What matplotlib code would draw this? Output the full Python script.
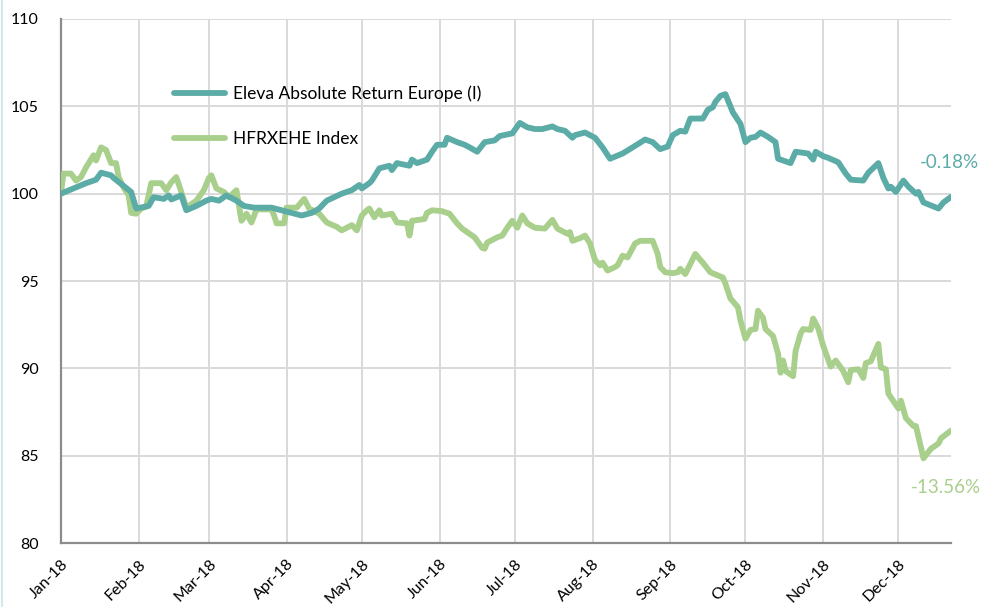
import pandas as pd
import matplotlib
matplotlib.use('Agg')
import matplotlib.pyplot as plt
import matplotlib.dates as mdates
from matplotlib.lines import Line2D

# Eleva Absolute Return Europe (I), rebased to 100
eleva_dates = ['2018-01-01', '2018-01-06', '2018-01-11', '2018-01-15', '2018-01-17', '2018-01-21',
               '2018-01-22', '2018-01-29', '2018-01-31', '2018-02-05', '2018-02-07', '2018-02-11',
               '2018-02-13', '2018-02-14', '2018-02-18', '2018-02-20', '2018-02-24', '2018-02-28',
               '2018-03-02', '2018-03-05', '2018-03-08', '2018-03-12', '2018-03-15', '2018-03-19',
               '2018-03-26', '2018-03-30', '2018-04-03', '2018-04-07', '2018-04-11', '2018-04-14',
               '2018-04-17', '2018-04-23', '2018-04-27', '2018-04-30', '2018-05-01', '2018-05-04',
               '2018-05-05', '2018-05-08', '2018-05-12', '2018-05-13', '2018-05-15', '2018-05-20',
               '2018-05-21', '2018-05-23', '2018-05-27', '2018-05-29', '2018-05-31', '2018-06-03',
               '2018-06-04', '2018-06-08', '2018-06-11', '2018-06-13', '2018-06-16', '2018-06-19',
               '2018-06-23', '2018-06-25', '2018-06-30', '2018-07-03', '2018-07-06', '2018-07-09',
               '2018-07-12', '2018-07-16', '2018-07-18', '2018-07-21', '2018-07-24', '2018-07-25',
               '2018-07-29', '2018-08-02', '2018-08-05', '2018-08-08', '2018-08-13', '2018-08-17',
               '2018-08-22', '2018-08-25', '2018-08-28', '2018-08-31', '2018-09-02', '2018-09-05',
               '2018-09-07', '2018-09-09', '2018-09-14', '2018-09-16', '2018-09-18', '2018-09-19',
               '2018-09-21', '2018-09-23', '2018-09-24', '2018-09-26', '2018-09-29', '2018-10-01',
               '2018-10-03', '2018-10-05', '2018-10-07', '2018-10-10', '2018-10-13', '2018-10-14',
               '2018-10-16', '2018-10-19', '2018-10-21', '2018-10-26', '2018-10-28', '2018-10-29',
               '2018-11-01', '2018-11-03', '2018-11-07', '2018-11-10', '2018-11-12', '2018-11-17',
               '2018-11-19', '2018-11-23', '2018-11-25', '2018-11-27', '2018-11-28', '2018-11-30',
               '2018-12-03', '2018-12-05', '2018-12-08', '2018-12-09', '2018-12-11', '2018-12-17',
               '2018-12-19', '2018-12-22']
eleva_values = [100.0, 100.3, 100.6, 100.8, 101.2, 101.05,
                100.9, 100.1, 99.15, 99.3, 99.8, 99.7,
                99.9, 99.67, 99.9, 99.05, 99.3, 99.6,
                99.7, 99.6, 99.9, 99.6, 99.3, 99.2,
                99.2, 99.05, 98.9, 98.75, 98.9, 99.15,
                99.6, 100.0, 100.2, 100.5, 100.3, 100.6,
                100.75, 101.45, 101.6, 101.35, 101.75, 101.6,
                101.95, 101.75, 101.95, 102.4, 102.8, 102.8,
                103.2, 102.95, 102.8, 102.65, 102.4, 102.95,
                103.05, 103.3, 103.45, 104.05, 103.8, 103.7,
                103.7, 103.85, 103.7, 103.6, 103.2, 103.35,
                103.5, 103.2, 102.65, 102.0, 102.3, 102.65,
                103.1, 102.95, 102.55, 102.7, 103.35, 103.6,
                103.55, 104.3, 104.3, 104.8, 104.95, 105.25,
                105.6, 105.7, 105.35, 104.65, 104.0, 102.95,
                103.2, 103.25, 103.5, 103.25, 102.95, 102.0,
                101.9, 101.75, 102.4, 102.3, 101.95, 102.4,
                102.15, 102.05, 101.8, 101.15, 100.8, 100.75,
                101.2, 101.75, 100.9, 100.3, 100.4, 100.1,
                100.75, 100.4, 100.0, 100.1, 99.5, 99.15,
                99.5, 99.82]

# HFRXEHE Index, rebased to 100
hfrx_dates = ['2018-01-01', '2018-01-02', '2018-01-05', '2018-01-07', '2018-01-09', '2018-01-11',
              '2018-01-14', '2018-01-15', '2018-01-17', '2018-01-19', '2018-01-21', '2018-01-23',
              '2018-01-24', '2018-01-26', '2018-01-28', '2018-01-29', '2018-01-31', '2018-02-02',
              '2018-02-04', '2018-02-06', '2018-02-10', '2018-02-12', '2018-02-14', '2018-02-16',
              '2018-02-18', '2018-02-20', '2018-02-24', '2018-02-27', '2018-03-01', '2018-03-02',
              '2018-03-04', '2018-03-07', '2018-03-09', '2018-03-12', '2018-03-14', '2018-03-16',
              '2018-03-18', '2018-03-20', '2018-03-26', '2018-03-27', '2018-03-28', '2018-03-31',
              '2018-04-01', '2018-04-05', '2018-04-08', '2018-04-10', '2018-04-14', '2018-04-17',
              '2018-04-21', '2018-04-23', '2018-04-25', '2018-04-27', '2018-04-29', '2018-05-01',
              '2018-05-03', '2018-05-04', '2018-05-06', '2018-05-08', '2018-05-09', '2018-05-13',
              '2018-05-15', '2018-05-19', '2018-05-20', '2018-05-21', '2018-05-26', '2018-05-27',
              '2018-05-29', '2018-06-02', '2018-06-05', '2018-06-08', '2018-06-10', '2018-06-12',
              '2018-06-15', '2018-06-18', '2018-06-19', '2018-06-20', '2018-06-24', '2018-06-26',
              '2018-06-28', '2018-06-30', '2018-07-02', '2018-07-04', '2018-07-06', '2018-07-09',
              '2018-07-13', '2018-07-16', '2018-07-18', '2018-07-22', '2018-07-23', '2018-07-24',
              '2018-07-27', '2018-07-29', '2018-07-31', '2018-08-02', '2018-08-04', '2018-08-05',
              '2018-08-07', '2018-08-10', '2018-08-11', '2018-08-13', '2018-08-15', '2018-08-18',
              '2018-08-20', '2018-08-25', '2018-08-27', '2018-08-28', '2018-08-30', '2018-09-02',
              '2018-09-04', '2018-09-05', '2018-09-07', '2018-09-11', '2018-09-14', '2018-09-17',
              '2018-09-22', '2018-09-23', '2018-09-25', '2018-09-28', '2018-09-29', '2018-10-01',
              '2018-10-03', '2018-10-05', '2018-10-06', '2018-10-08', '2018-10-09', '2018-10-12',
              '2018-10-14', '2018-10-15', '2018-10-16', '2018-10-17', '2018-10-20', '2018-10-21',
              '2018-10-23', '2018-10-24', '2018-10-27', '2018-10-28', '2018-10-30', '2018-11-01',
              '2018-11-04', '2018-11-06', '2018-11-09', '2018-11-11', '2018-11-12', '2018-11-15',
              '2018-11-17', '2018-11-18', '2018-11-20', '2018-11-23', '2018-11-24', '2018-11-26',
              '2018-11-27', '2018-12-01', '2018-12-02', '2018-12-04', '2018-12-07', '2018-12-08',
              '2018-12-11', '2018-12-14', '2018-12-17', '2018-12-18', '2018-12-22']
hfrx_values = [100.0, 101.15, 101.15, 100.75, 100.95, 101.5,
               102.2, 101.9, 102.65, 102.5, 101.75, 101.75,
               100.95, 100.35, 99.9, 98.9, 98.85, 99.15,
               99.25, 100.6, 100.6, 100.2, 100.65, 100.95,
               100.1, 99.2, 99.6, 100.2, 100.9, 101.05,
               100.3, 100.1, 99.8, 100.2, 98.45, 98.85,
               98.35, 99.1, 99.1, 98.75, 98.3, 98.3,
               99.2, 99.2, 99.7, 99.15, 98.85, 98.35,
               98.1, 97.9, 98.05, 98.2, 97.9, 98.75,
               99.05, 99.15, 98.65, 99.05, 98.75, 98.85,
               98.35, 98.3, 97.6, 98.45, 98.55, 98.9,
               99.05, 99.0, 98.85, 98.3, 98.0, 97.8,
               97.5, 96.9, 96.85, 97.2, 97.5, 97.6,
               98.05, 98.45, 98.05, 98.75, 98.3, 98.05,
               98.0, 98.5, 98.0, 97.7, 97.8, 97.3,
               97.45, 97.6, 97.15, 96.2, 95.9, 96.05,
               95.6, 95.8, 95.9, 96.45, 96.35, 97.15,
               97.3, 97.3, 96.55, 95.8, 95.5, 95.45,
               95.5, 95.7, 95.4, 96.55, 96.05, 95.5,
               95.2, 94.85, 94.0, 93.5, 92.75, 91.7,
               92.2, 92.25, 93.3, 92.9, 92.25, 91.85,
               90.85, 89.75, 90.45, 89.85, 89.55, 91.0,
               92.0, 92.25, 92.2, 92.85, 92.3, 91.3,
               90.1, 90.45, 89.85, 89.2, 89.9, 89.95,
               89.45, 90.3, 90.4, 91.4, 90.05, 89.95,
               88.55, 87.7, 88.15, 87.15, 86.7, 86.7,
               84.85, 85.4, 85.7, 86.0, 86.44]

eleva_label = 'Eleva Absolute Return Europe (I)'
hfrx_label = 'HFRXEHE Index'
eleva_perf = '-0.18%'
hfrx_perf = '-13.56%'

teal = '#5BABA7'
green = '#A9CF8C'

plt.rcParams['font.family'] = ['Lato', 'DejaVu Sans']

fig = plt.figure(figsize=(9.83, 6.07), dpi=100)
ax = fig.add_axes([0.062, 0.1054, 0.9055, 0.8633])

ax.plot(pd.to_datetime(eleva_dates), eleva_values, color=teal, lw=4.2,
        solid_joinstyle='round', solid_capstyle='round', label=eleva_label, zorder=3)
ax.plot(pd.to_datetime(hfrx_dates), hfrx_values, color=green, lw=4.2,
        solid_joinstyle='round', solid_capstyle='round', label=hfrx_label, zorder=2)

ax.set_ylim(80, 110)
ax.set_yticks(range(80, 111, 5))
ax.set_xlim(pd.Timestamp('2018-01-01'), pd.Timestamp('2018-12-22'))
ax.xaxis.set_major_locator(mdates.MonthLocator())
ax.xaxis.set_major_formatter(mdates.DateFormatter('%b-%y'))

ax.grid(True, color='#D9D9D9', lw=1.4)
ax.set_axisbelow(True)
for s in ['top', 'right']:
    ax.spines[s].set_visible(False)
for s in ['left', 'bottom']:
    ax.spines[s].set_color('#8C8C8C')
    ax.spines[s].set_linewidth(1.6)
    ax.spines[s].set_zorder(1)

ax.tick_params(axis='both', length=0, labelsize=11.5, colors='black')
ax.tick_params(axis='y', pad=16)
ax.tick_params(axis='x', pad=10)
for lbl in ax.get_xticklabels():
    lbl.set_rotation(45)
    lbl.set_rotation_mode('anchor')
    lbl.set_ha('right')
    lbl.set_va('top')

ax.legend(loc='upper left', bbox_to_anchor=(0.110, 0.903), frameon=False,
          fontsize=12.5, handlelength=2.9, handletextpad=0.45, labelspacing=1.65)

ax.annotate(eleva_perf, xy=(pd.Timestamp(eleva_dates[-1]), eleva_values[-1]),
            xytext=(-1, 25), textcoords='offset points', ha='center', va='center',
            color=teal, fontsize=13.5)
ax.annotate(hfrx_perf, xy=(pd.Timestamp(hfrx_dates[-1]), hfrx_values[-1]),
            xytext=(-4, -41), textcoords='offset points', ha='center', va='center',
            color=green, fontsize=13.5, annotation_clip=False)
for t in ax.texts:
    t.set_clip_on(False)

# thin frame line at the left edge of the screenshot
fig.add_artist(Line2D([0.002, 0.002], [0, 1], transform=fig.transFigure, color='#D3E8E8', lw=1.5))

fig.savefig('out.png', dpi=100)
